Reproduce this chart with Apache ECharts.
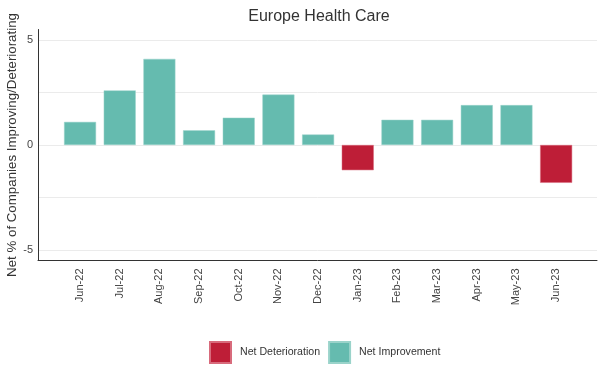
<!DOCTYPE html>
<html>
<head>
<meta charset="utf-8">
<script src="https://cdn.jsdelivr.net/npm/echarts@6/dist/echarts.min.js"></script>
<style>html,body{margin:0;padding:0;background:#fff}#c{width:605px;height:378px}</style>
</head>
<body>
<div id="c"></div>
<script>
var categories = ['Jun-22','Jul-22','Aug-22','Sep-22','Oct-22','Nov-22','Dec-22','Jan-23','Feb-23','Mar-23','Apr-23','May-23','Jun-23'];
var improvement = [1.1, 2.6, 4.1, 0.7, 1.3, 2.4, 0.5, null, 1.2, 1.2, 1.9, 1.9, null];
var deterioration = [null, null, null, null, null, null, null, -1.2, null, null, null, null, -1.8];
var yLabelValues = [-5, 0, 5];
var yGridValues = [-5, -2.5, 0, 2.5, 5];

function pairs(arr) {
  var out = [];
  for (var i = 0; i < arr.length; i++) out.push([i, arr[i] === null ? '-' : arr[i]]);
  return out;
}
var idx = categories.map(function (c, i) { return i; });

var chart = echarts.init(document.getElementById('c'));
var font = '"Liberation Sans", Arial, Helvetica, sans-serif';
chart.setOption({
  animation: false,
  textStyle: { fontFamily: font },
  title: {
    text: 'Europe Health Care',
    left: 314, textAlign: 'center', top: 4,
    textStyle: { fontFamily: font, fontSize: 16, fontWeight: 'normal', color: '#333' }
  },
  legend: {
    bottom: 9, left: 204,
    itemWidth: 21, itemHeight: 21, itemGap: 8,
    icon: 'rect',
    textStyle: { fontFamily: font, fontSize: 10.6, color: '#333', padding: [0, 0, 0, 4] },
    data: ['Net Deterioration', 'Net Improvement']
  },
  grid: { left: 38, right: 8, top: 29.5, bottom: 117.5, containLabel: false, outerBoundsMode: 'none' },
  xAxis: {
    type: 'value', min: -1.06, max: 13.03,
    axisLine: { show: true, onZero: false, lineStyle: { color: '#333', width: 1 } },
    axisTick: { show: false, customValues: idx },
    splitLine: { show: false },
    axisLabel: {
      customValues: idx, rotate: 90, margin: 8, fontSize: 11, color: '#444', fontFamily: font,
      formatter: function (v) { return categories[Math.round(v)]; }
    }
  },
  yAxis: {
    type: 'value', min: -5.5, max: 5.5,
    name: 'Net % of Companies Improving/Deteriorating',
    nameLocation: 'middle', nameGap: 19, nameMoveOverlap: false,
    nameTextStyle: { fontFamily: font, fontSize: 13.3, color: '#333' },
    axisLine: { show: true, onZero: false, lineStyle: { color: '#333', width: 1 } },
    axisTick: { show: false, customValues: yGridValues },
    axisLabel: { customValues: yLabelValues, fontSize: 11, color: '#444', margin: 5, fontFamily: font },
    splitLine: { show: true, lineStyle: { color: '#ebebeb', width: 1 } }
  },
  series: [
    {
      name: 'Net Deterioration', type: 'bar', barWidth: 32, barGap: '-100%',
      itemStyle: { color: '#BE1E37', borderColor: '#d86b7c', borderWidth: 0.5 },
      data: pairs(deterioration)
    },
    {
      name: 'Net Improvement', type: 'bar', barWidth: 32, barGap: '-100%',
      itemStyle: { color: '#65BBAF', borderColor: '#9ad3ca', borderWidth: 0.5 },
      data: pairs(improvement)
    }
  ]
});
</script>
</body>
</html>
